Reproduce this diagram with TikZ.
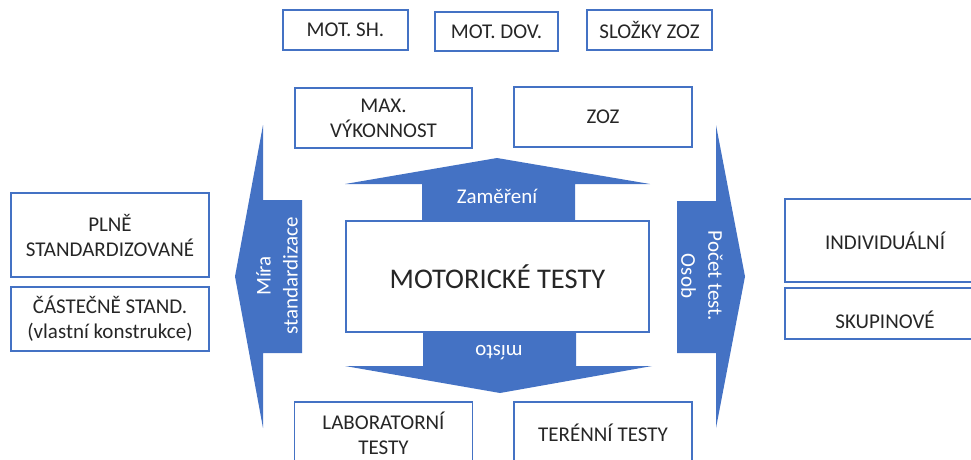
\documentclass[tikz,border=0pt]{standalone}
\usepackage{fontspec}
\setmainfont{Carlito}
\definecolor{obl}{HTML}{4472C4}
\definecolor{txt}{HTML}{262626}
\begin{document}
\begin{tikzpicture}[x=1pt,y=-1pt,
  bx/.style={draw=obl,line width=1.2pt,fill=white,inner sep=0pt,align=center,text=txt,
     font=\fontsize{21}{25}\selectfont},
  arr/.style={fill=obl,draw=none},
  wl/.style={text=white,align=center,inner sep=0pt,font=\fontsize{21}{27}\selectfont}]
\useasboundingbox (0,0) rectangle (971,459);
% top row
\node[bx,minimum width=125pt,minimum height=40pt] (mots) at (345.5,30) {MOT. SH.};
\node[bx,minimum width=123pt,minimum height=39pt] (motdov) at (496.5,31.5) {MOT. DOV.};
\node[bx,minimum width=125pt,minimum height=40pt] (slozky) at (649.5,30) {SLOŽKY ZOZ};
% second row
\node[bx,minimum width=177pt,minimum height=60pt] (maxv) at (383.5,118) {MAX.\\VÝKONNOST};
\node[bx,minimum width=178pt,minimum height=60pt] (zoz) at (603,117) {ZOZ};
% arrows
\path[arr] (345,184) -- (497,158) -- (650,184) -- (575,184) -- (575,221) -- (422,221) -- (422,184) -- cycle;
\path[arr] (423,332) -- (576,332) -- (576,366) -- (652,366) -- (500,393) -- (345,366) -- (423,366) -- cycle;
\path[arr] (302,200) -- (302,353) -- (263,353) -- (263,428) -- (235,276.5) -- (263,125) -- (263,200) -- cycle;
\path[arr] (677,201) -- (716,201) -- (716,125) -- (745,276.5) -- (716,428) -- (716,353) -- (677,353) -- cycle;
% centre
\node[bx,minimum width=303pt,minimum height=111pt,font=\fontsize{28.5}{33}\selectfont] (mt) at (497.5,276.5) {MOTORICKÉ TESTY};
% arrow labels
\node[wl] (zam) at (497,196) {Zaměření};
\node[wl,rotate=180] (misto) at (499,353) {místo};
\node[wl,rotate=90] (mira) at (277,276) {Míra\\standardizace};
\node[wl,rotate=-90] (pocet) at (702,276) {Počet test.\\Osob};
% left
\node[bx,minimum width=198pt,minimum height=84pt] (plne) at (110,235) {PLNĚ\\STANDARDIZOVANÉ};
\node[bx,minimum width=198pt,minimum height=64pt] (cast) at (110,319) {ČÁSTEČNĚ STAND.\\(vlastní konstrukce)};
% right
\node[bx,minimum width=200pt,minimum height=83pt] (indiv) at (885,240.5) {INDIVIDUÁLNÍ};
\node[bx,minimum width=200pt,minimum height=51pt] (skup) at (885,313.5) {};
\node[text=txt,inner sep=0pt,font=\fontsize{21}{25}\selectfont] (skupt) at (885,320) {SKUPINOVÉ};
% bottom
\node[bx,minimum width=178pt,minimum height=62pt] (lab) at (383.5,433) {LABORATORNÍ\\TESTY};
\node[bx,minimum width=178pt,minimum height=62pt] (ter) at (603,433) {TERÉNNÍ TESTY};
\end{tikzpicture}
\end{document}
